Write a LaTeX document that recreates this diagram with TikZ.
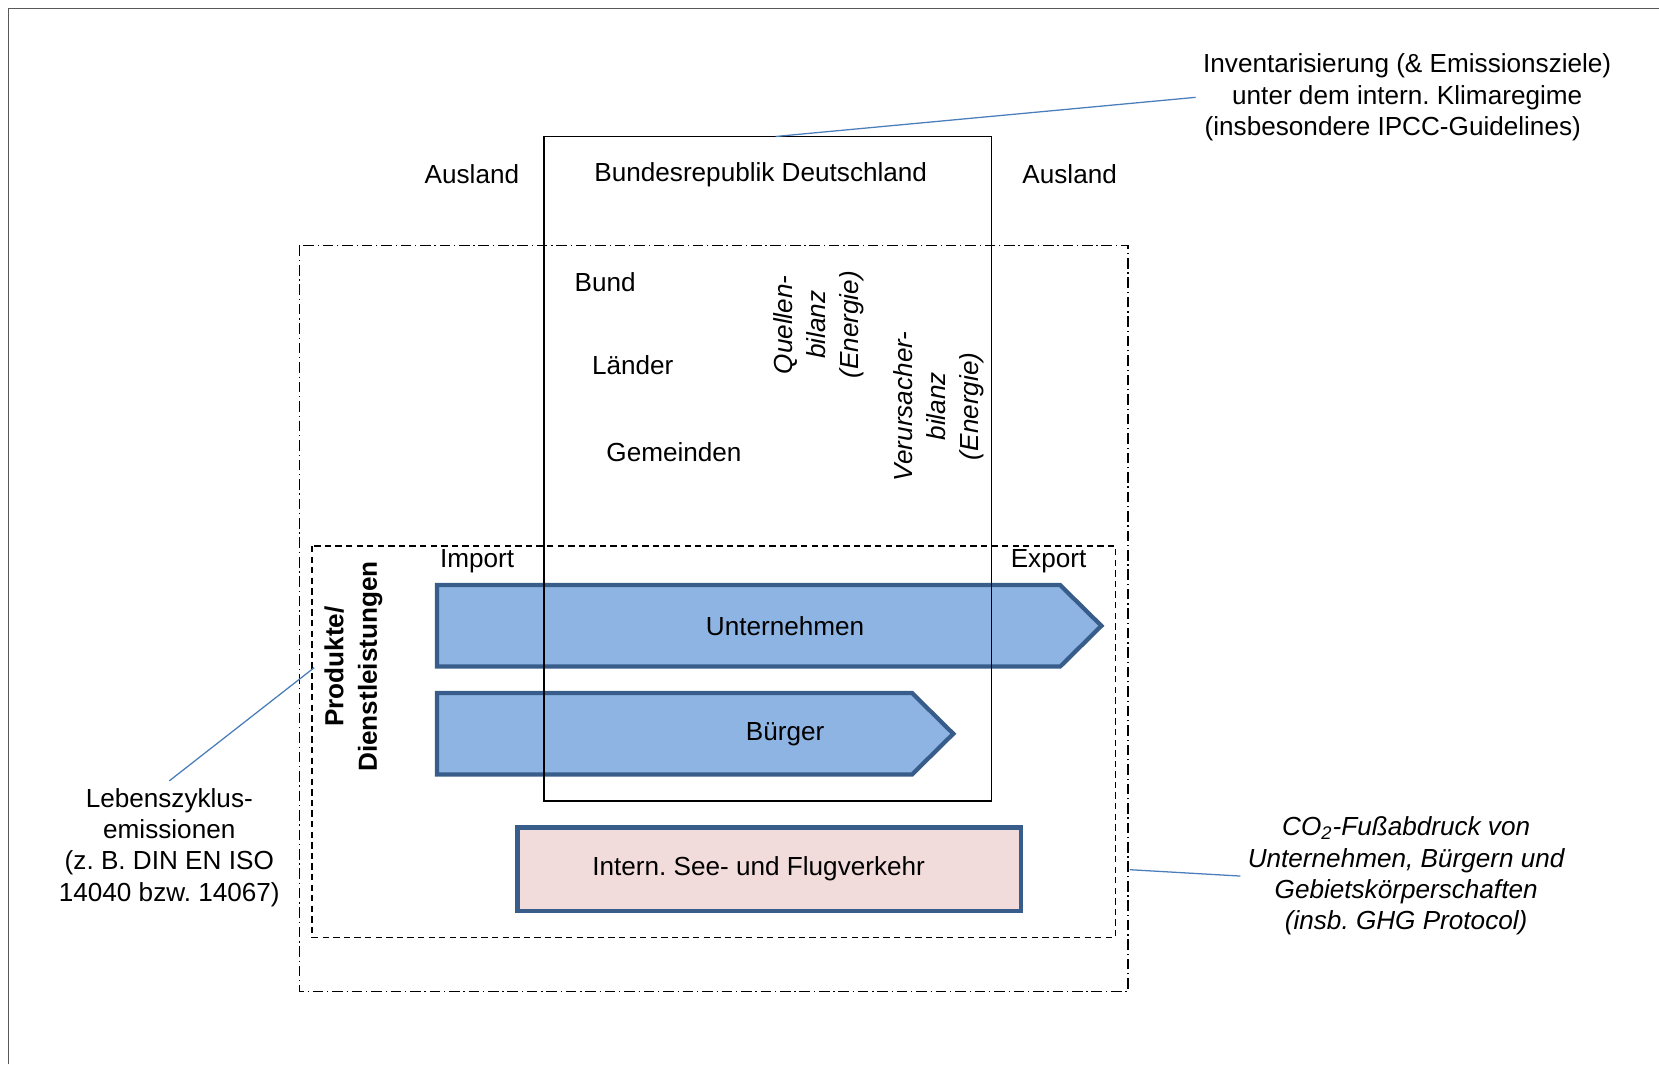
\documentclass[tikz,border=0pt]{standalone}
\usepackage{fontspec}
\setmainfont{Liberation Sans}
\frenchspacing
\definecolor{flowblue}{HTML}{8DB4E2}
\definecolor{flowedge}{HTML}{385D8A}
\definecolor{seapink}{HTML}{F2DCDB}
\definecolor{leaderblue}{HTML}{4A7EBB}
\definecolor{framegray}{HTML}{595959}
\usetikzlibrary{positioning}

\begin{document}
\begin{tikzpicture}[x=0.5pt, y=-0.5pt,
    lbl/.style={font=\fontsize{12.35}{14.8}\selectfont, align=center},
    itlbl/.style={font=\fontsize{12.35}{14.8}\selectfont\itshape, align=center},
    vlbl/.style={rotate=90, align=center},
    leader/.style={draw=leaderblue, line width=0.6pt},
    flow/.style={fill=flowblue, draw=flowedge, line width=2pt},
    seabox/.style={fill=seapink, draw=flowedge, line width=2pt},
    dashdot/.style={line width=0.65pt, dash pattern=on 5pt off 1.8pt on 0.6pt off 1.8pt},
    dashbox/.style={line width=0.6pt, dash pattern=on 3pt off 2pt}]
  \useasboundingbox (0,0) rectangle (1568,1006);
  \draw[framegray, line width=0.8pt] (8,1006) -- (8,8) -- (1568,8);

  % life cycle and footprint scopes
  \draw[dashdot] (283,232) rectangle (1066,937);
  \draw[dashbox] (295,516) rectangle (1054,886);

  % flows of goods through the country
  \foreach \y/\w/\id/\txt in {553/1002/untern/Unternehmen, 655/862/buerger/Bürger} {
    \draw[flow] (413,\y) -- (\w,\y) -- (\w+39,\y+38.5) -- (\w,\y+77)
      -- (413,\y+77) -- cycle;
    \node[lbl] (\id) at (742,\y+39) {\txt};
  }
  \draw[seabox] (489,782) rectangle (965,861);
  \node[lbl] (see) at (717,821) {Intern. See- und Flugverkehr};

  % national territory
  \draw[line width=0.7pt] (514,129) rectangle (937,757);
  \coordinate (brdtop) at (733,129);
  \node[lbl] (auslandl) at (446,165) {Ausland};
  \node[lbl] (brd) at (719,165) {Bundesrepublik Deutschland};
  \node[lbl] (auslandr) at (1011,165) {Ausland};
  \node[lbl] (bund) at (572,267) {Bund};
  \node[lbl] (laender) at (598,345) {Länder};
  \node[lbl] (gemeinden) at (637,427) {Gemeinden};
  \node[vlbl, font=\fontsize{12.35}{15.6}\selectfont\itshape] (quelle) at (774,307)
    {Quellen-\\bilanz\\(Energie)};
  \node[vlbl, font=\fontsize{12.35}{15.6}\selectfont\itshape] (verurs) at (887,384)
    {Verursacher-\\bilanz\\(Energie)};
  \node[vlbl, font=\fontsize{12.35}{15.8}\selectfont\bfseries] (produkte) at (334,630)
    {Produkte/\\Dienstleistungen};
  \node[lbl] (import) at (451,530) {Import};
  \node[lbl] (export) at (991,530) {Export};

  % annotations
  \node[lbl] (inv) at (1330,92)
    {Inventarisierung (\& Emissionsziele)\\unter dem intern. Klimaregime\\(insbesondere IPCC-Guidelines)\hspace*{34\pgflinewidth}};
  \node[lbl] (leben) at (160,801)
    {Lebenszyklus-\\emissionen\\(z. B. DIN EN ISO\\14040 bzw. 14067)};
  \node[itlbl] (co2) at (1329,828)
    {CO\textsubscript{2}-Fußabdruck von\\Unternehmen, Bürgern und\\Gebietskörperschaften\\(insb. GHG Protocol)};
  \coordinate (lcend) at (297,631);
  \coordinate (co2end) at (1068,822);
  \draw[leader] (inv.west) -- (brdtop);
  \draw[leader] (leben.north) -- (lcend);
  \draw[leader] (co2.west) -- (co2end);
\end{tikzpicture}
\end{document}
